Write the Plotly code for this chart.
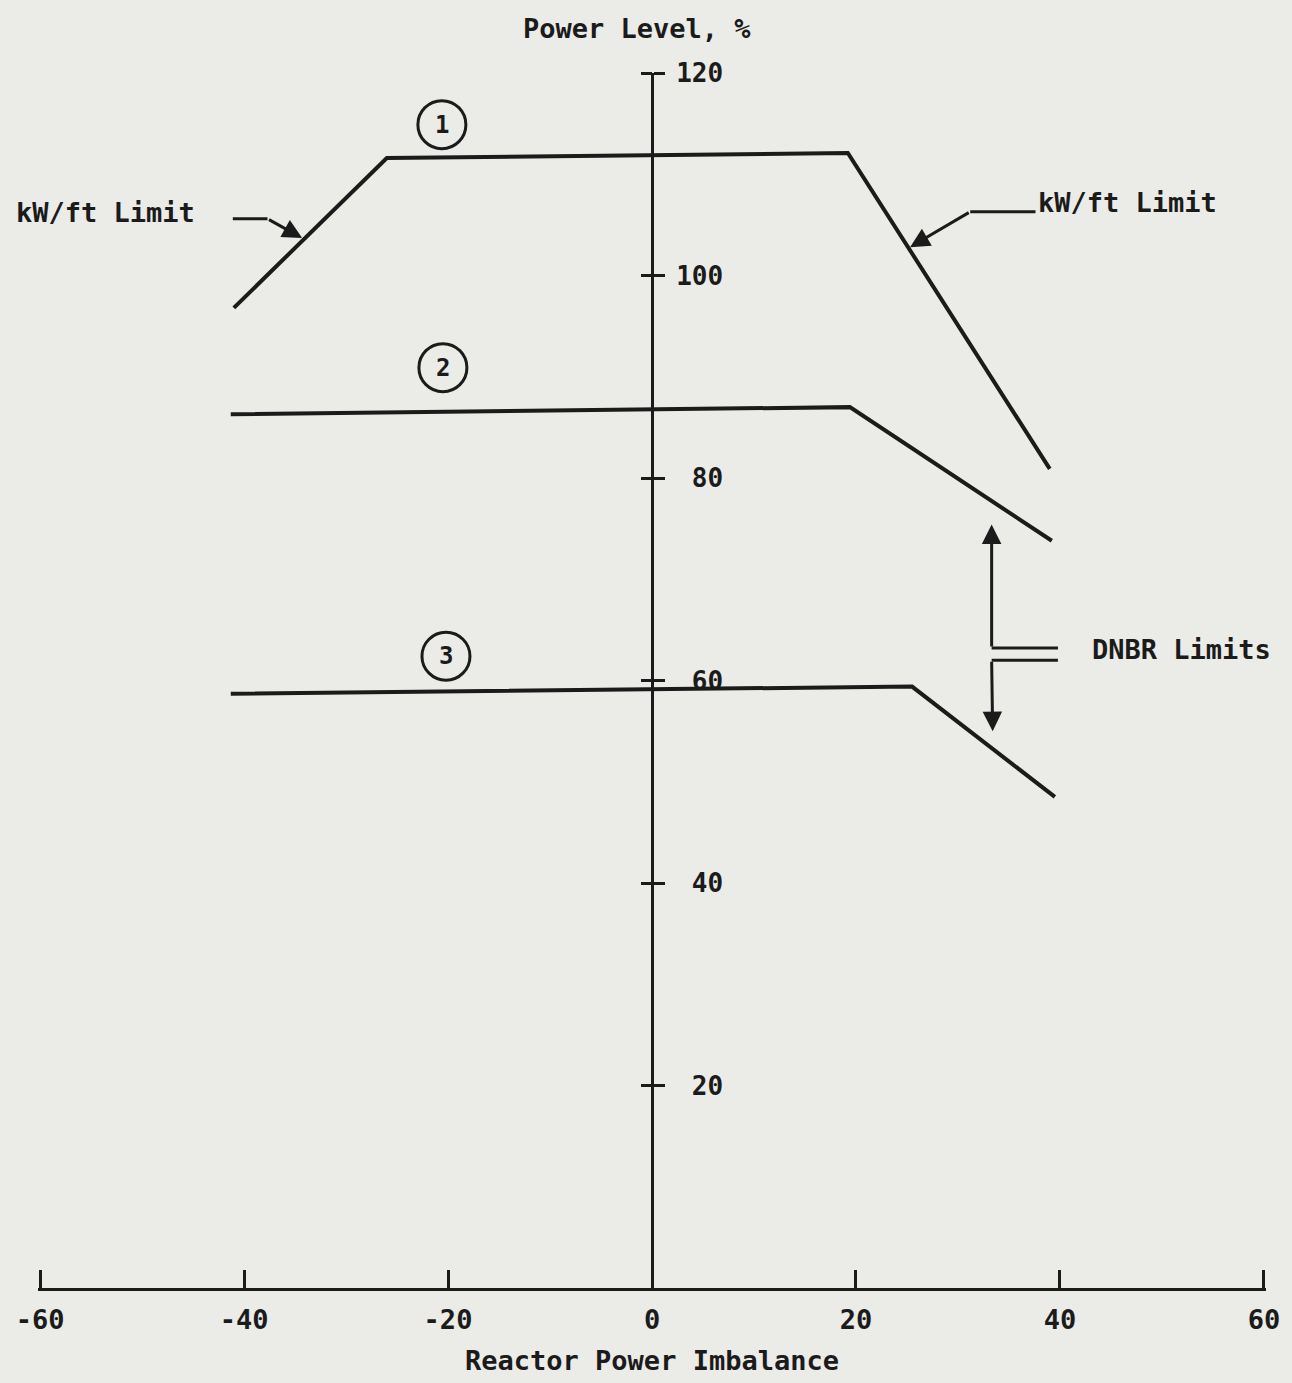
import plotly.graph_objects as go

# ---- data ----
imbalance_1 = [-41.0, -26.0, 19.2, 39.0]
power_1 = [96.8, 111.6, 112.1, 80.9]
imbalance_2 = [-41.3, 19.4, 39.2]
power_2 = [86.3, 87.0, 73.8]
imbalance_3 = [-41.3, 25.5, 39.5]
power_3 = [58.7, 59.4, 48.5]

x_ticks = [-60, -40, -20, 0, 20, 40, 60]
x_tick_labels = ["-60", "-40", "-20", "0", "20", "40", "60"]
y_ticks = [20, 40, 60, 80, 100, 120]
y_tick_labels = ["\u00a020", "\u00a040", "\u00a060", "\u00a080", "100", "120"]

curve_labels = ["1", "2", "3"]
label_x = [-20.6, -20.5, -20.2]
label_y = [114.9, 90.9, 62.4]

INK = "#1b1b1b"
BG = "#ebebe8"
FONT = "DejaVu Sans Mono"

# plot-area geometry (pixels)
L, T, B = 38, 73, 92
W = 1229
H = 1383 - T - B

fig = go.Figure()
for xs, ys in [(imbalance_1, power_1), (imbalance_2, power_2), (imbalance_3, power_3)]:
    fig.add_trace(go.Scatter(x=xs, y=ys, mode="lines",
                             line=dict(color=INK, width=4), showlegend=False,
                             hoverinfo="skip"))
# dummy trace on the second y axis so it is drawn
fig.add_trace(go.Scatter(x=[None], y=[None], yaxis="y2", showlegend=False))

shapes = []
annotations = []

# circled curve numbers
for t, cx, cy in zip(curve_labels, label_x, label_y):
    shapes.append(dict(type="circle", xref="x", yref="y", xsizemode="pixel", ysizemode="pixel",
                       xanchor=cx, yanchor=cy, x0=-24, x1=24, y0=-24, y1=24,
                       line=dict(color=INK, width=3)))
    annotations.append(dict(x=cx, y=cy, text="<b>%s</b>" % t, showarrow=False,
                            font=dict(family=FONT, size=24, color=INK)))

# kW/ft limit labels and leaders
annotations.append(dict(x=(14 - L) / W, y=(1290 - 212) / H, xref="paper", yref="paper",
                        xanchor="left", yanchor="middle", text="<b>kW/ft Limit</b>",
                        showarrow=False, font=dict(family=FONT, size=27, color=INK)))
shapes.append(dict(type="line", xref="x", yref="y", x0=-41.1, y0=105.6, x1=-37.7, y1=105.6,
                   line=dict(color=INK, width=3)))
annotations.append(dict(x=-34.3, y=103.7, ax=-37.7, ay=105.6, axref="x", ayref="y",
                        xref="x", yref="y", text="", showarrow=True, arrowhead=2,
                        arrowsize=1.3, arrowwidth=3, arrowcolor=INK))

annotations.append(dict(x=37.6, y=107.2, xanchor="left", yanchor="middle", text="<b>kW/ft Limit</b>",
                        showarrow=False, font=dict(family=FONT, size=27, color=INK)))
shapes.append(dict(type="line", xref="x", yref="y", x0=31.2, y0=106.3, x1=37.6, y1=106.3,
                   line=dict(color=INK, width=3)))
annotations.append(dict(x=25.3, y=102.8, ax=31.2, ay=106.3, axref="x", ayref="y",
                        xref="x", yref="y", text="", showarrow=True, arrowhead=2,
                        arrowsize=1.3, arrowwidth=3, arrowcolor=INK))

# DNBR bracket
shapes.append(dict(type="line", xref="x", yref="y", x0=33.3, y0=63.2, x1=39.8, y1=63.2,
                   line=dict(color=INK, width=3)))
shapes.append(dict(type="line", xref="x", yref="y", x0=33.3, y0=62.0, x1=39.8, y1=62.0,
                   line=dict(color=INK, width=3)))
annotations.append(dict(x=33.3, y=75.4, ax=33.3, ay=63.2, axref="x", ayref="y",
                        xref="x", yref="y", text="", showarrow=True, arrowhead=2,
                        arrowsize=1.3, arrowwidth=3, arrowcolor=INK))
annotations.append(dict(x=33.4, y=55.0, ax=33.3, ay=62.0, axref="x", ayref="y",
                        xref="x", yref="y", text="", showarrow=True, arrowhead=2,
                        arrowsize=1.3, arrowwidth=3, arrowcolor=INK))
annotations.append(dict(x=42.9, y=63.1, xanchor="left", yanchor="middle", text="<b>DNBR Limits</b>",
                        showarrow=False, font=dict(family=FONT, size=27, color=INK)))

# y axis title at the top
annotations.append(dict(x=(637 - L) / W, y=(1290 - 27) / H, xref="paper", yref="paper",
                        xanchor="center", yanchor="middle",
                        text="<b>Power Level, %</b>", showarrow=False,
                        font=dict(family=FONT, size=27, color=INK)))

fig.update_layout(
    width=1292, height=1383,
    margin=dict(l=L, r=1292 - L - W, t=T, b=B),
    paper_bgcolor=BG, plot_bgcolor=BG,
    showlegend=False,
    shapes=shapes, annotations=annotations,
    xaxis=dict(range=[-60.2, 60.2], showgrid=False, zeroline=False,
               showline=True, linecolor=INK, linewidth=3,
               ticks="inside", ticklen=18, tickwidth=3, tickcolor=INK,
               tickvals=x_ticks, ticktext=["<b>%s</b>" % t for t in x_tick_labels],
               tickfont=dict(family=FONT, size=27, color=INK),
               ticklabelstandoff=6,
               title=dict(text="<b>Reactor Power Imbalance</b>", standoff=17,
                          font=dict(family=FONT, size=27, color=INK))),
    yaxis=dict(range=[0, 120], showgrid=False, zeroline=False,
               anchor="free", position=0.5, side="right",
               showline=True, linecolor=INK, linewidth=3,
               ticks="outside", ticklen=11, tickwidth=3, tickcolor=INK,
               tickvals=y_ticks, ticktext=["<b>%s</b>" % t for t in y_tick_labels],
               tickfont=dict(family=FONT, size=26, color=INK),
               ticklabelstandoff=6),
    yaxis2=dict(range=[0, 120], overlaying="y", anchor="free", position=0.5, side="left",
                showgrid=False, zeroline=False, showline=False,
                ticks="outside", ticklen=11, tickwidth=3, tickcolor=INK,
                tickvals=y_ticks, showticklabels=False),
)

fig.write_html("out.html", config={"displayModeBar": False},
               post_script="document.body.style.margin='0px';")
